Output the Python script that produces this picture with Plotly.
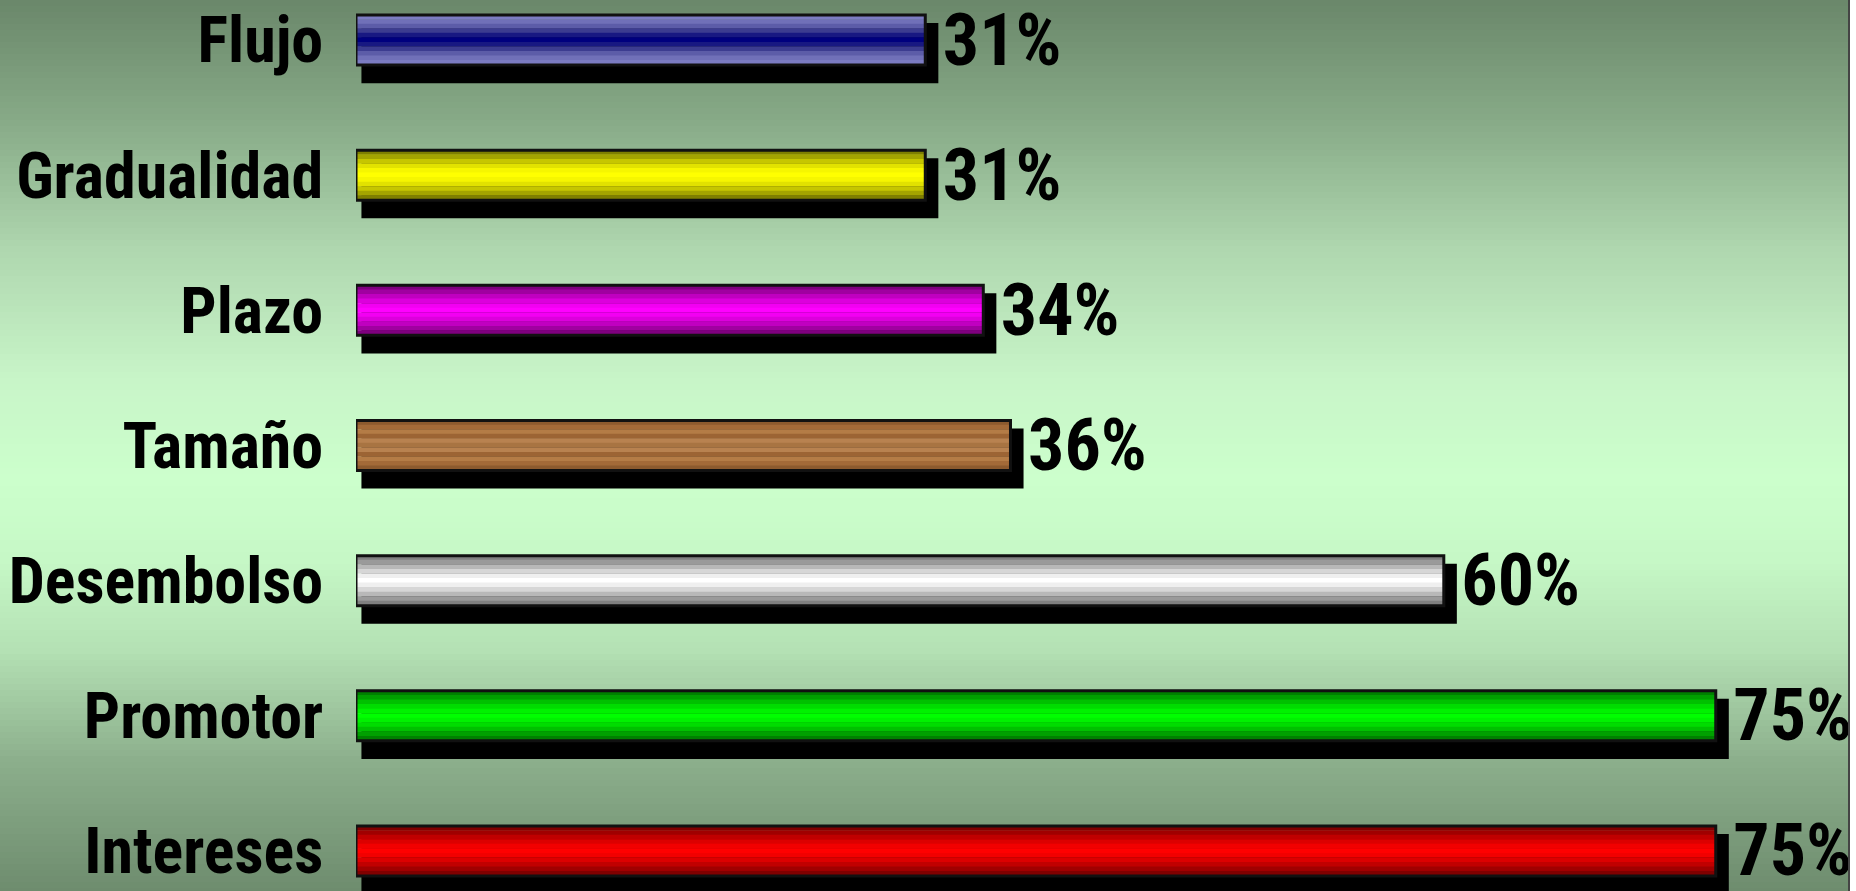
import plotly.graph_objects as go

# ---- data ----
categories = ["Flujo", "Gradualidad", "Plazo", "Tamaño", "Desembolso", "Promotor", "Intereses"]
values = [31.4, 31.4, 34.6, 36.1, 60.0, 75.0, 75.0]
labels = ["31%", "31%", "34%", "36%", "60%", "75%", "75%"]

# ---- styles (stripe colours from bar edge to bar centre) ----
stripe_colors = {
    "Flujo": ["#7c7cc2", "#7070b8", "#5c5ca8", "#3c3c90", "#181882", "#00007e"],
    "Gradualidad": ["#7f7f00", "#a4a400", "#c6c600", "#e2e200", "#f6f600", "#ffff00"],
    "Plazo": ["#7e007e", "#a000a0", "#c000c0", "#dc00dc", "#f200f2", "#ff00ff"],
    "Tamaño": ["#8c5a2e", "#a36a38", "#b47c46", "#9c6434", "#b88250", "#a87442"],
    "Desembolso": ["#808080", "#9a9a9a", "#b8b8b8", "#d6d6d6", "#efefef", "#ffffff"],
    "Promotor": ["#008000", "#00a000", "#00c000", "#00dc00", "#00f200", "#00ff00"],
    "Intereses": ["#800000", "#a00000", "#c00000", "#dc0000", "#f20000", "#ff0000"],
}
BAR_W = 0.37
N_BANDS = 11
FONT = "Liberation Sans Narrow, Arial Narrow, Roboto Condensed, DejaVu Sans Condensed, Arial, sans-serif"

fig = go.Figure()

# shadow
fig.add_trace(go.Bar(
    y=categories, x=[v + 0.72 - 0.30 for v in values], base=[0.30] * len(values),
    orientation="h", width=0.445, offset=-0.319,
    marker=dict(color="black", line=dict(width=0)), hoverinfo="skip", showlegend=False,
))

# striped bars
for j in range(N_BANDS):
    k = j if j <= N_BANDS // 2 else N_BANDS - 1 - j
    fig.add_trace(go.Bar(
        y=categories, x=values, orientation="h",
        width=BAR_W / N_BANDS * 1.08,
        offset=BAR_W / 2 - (j + 1) * BAR_W / N_BANDS,
        marker=dict(color=[stripe_colors[c][k] for c in categories], line=dict(width=0)),
        hoverinfo="skip", showlegend=False,
    ))

# border
fig.add_trace(go.Bar(
    y=categories, x=values, orientation="h", width=BAR_W, offset=-BAR_W / 2,
    marker=dict(color="rgba(0,0,0,0)", line=dict(color="#111", width=3)),
    hoverinfo="skip", showlegend=False,
))

# value labels
fig.add_trace(go.Bar(
    y=categories, x=[v + 0.8 for v in values], orientation="h", width=BAR_W, offset=-BAR_W / 2,
    marker=dict(color="rgba(0,0,0,0)", line=dict(width=0)),
    text=labels, textposition="outside", constraintext="none", cliponaxis=False,
    textfont=dict(family=FONT, size=72, color="black", weight="bold"),
    hoverinfo="skip", showlegend=False,
))

# background gradient
stops = [
    (0, (106, 135, 106)), (120, (135, 170, 135)), (250, (175, 215, 175)),
    (380, (200, 245, 200)), (480, (204, 255, 204)), (560, (198, 248, 198)),
    (650, (180, 225, 180)), (760, (140, 175, 140)), (891, (110, 140, 110)),
]
H, W, L = 891, 1856, 356
PW = W - L

def col_at(py):
    for (a, ca), (b, cb) in zip(stops[:-1], stops[1:]):
        if a <= py <= b:
            t = (py - a) / (b - a)
            return tuple(int(round(ca[i] + (cb[i] - ca[i]) * t)) for i in range(3))
    return stops[-1][1]

shapes = []
step = 6
for py in range(0, H, step):
    c = col_at(py + step / 2)
    shapes.append(dict(
        type="rect", xref="paper", yref="paper", layer="below",
        x0=-L / PW, x1=(1850 - L) / PW, y0=1 - (py + step + 0.5) / H, y1=1 - py / H,
        fillcolor="rgb(%d,%d,%d)" % c, line=dict(width=0),
    ))
shapes.append(dict(
    type="line", xref="paper", yref="paper", layer="above",
    x0=(1849 - L) / PW, x1=(1849 - L) / PW, y0=0, y1=1,
    line=dict(color="#444", width=2),
))

fig.update_layout(
    width=W, height=H, barmode="overlay",
    margin=dict(l=L, r=0, t=0, b=0, autoexpand=False),
    paper_bgcolor="white", plot_bgcolor="rgba(0,0,0,0)",
    shapes=shapes,
    xaxis=dict(visible=False, range=[0, PW / 18.13], fixedrange=True),
    yaxis=dict(
        categoryorder="array", categoryarray=list(reversed(categories)),
        range=[-0.296, 6.296], showgrid=False, zeroline=False, showline=False,
        ticks="outside", ticklen=19, tickcolor="rgba(0,0,0,0)",
        tickfont=dict(family=FONT, size=64, color="black", weight="bold"),
        automargin=False, fixedrange=True,
    ),
)

fig.write_html(
    "out.html",
    config={"displayModeBar": False},
    post_script="document.body.style.margin='0';document.body.style.overflow='hidden';",
)
